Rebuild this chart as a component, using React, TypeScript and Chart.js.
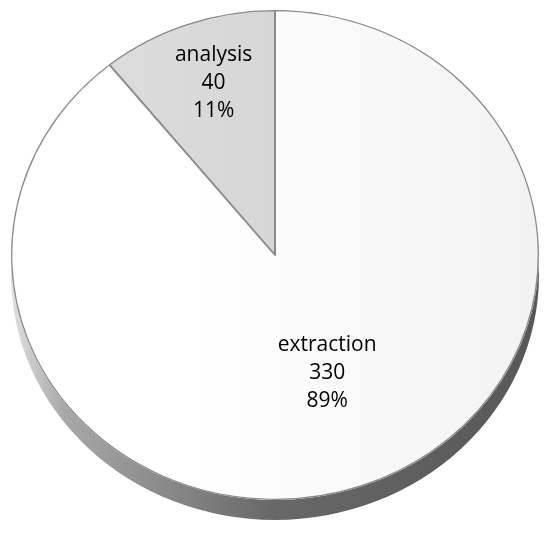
import React, { useEffect, useRef } from "react";
import { Chart, registerables } from "chart.js";

Chart.register(...registerables);

const categories = ["extraction", "analysis"];
const values = [330, 40];
const percentLabels = ["89%", "11%"];
const labelRadiusFraction = [0.52, 0.74];
const labelAngleShift = [-0.05, 0.02];

const W = 550;
const H = 534;
const CY_TARGET = 255;
const RY = 245;
const DEPTH = 20;

export default function App() {
  const ref = useRef<HTMLCanvasElement | null>(null);

  useEffect(() => {
    const canvas = ref.current;
    if (!canvas) return;

    const getGeom = (chart: any) => {
      const arc = chart.getDatasetMeta(0).data[0] as any;
      const cx = arc.x;
      const cy = arc.y;
      const rx = arc.outerRadius;
      const k = RY / rx;
      return { cx, cy, rx, k };
    };

    const ellipsePlugin = {
      id: "ellipse3d",
      beforeDatasetsDraw(chart: any) {
        const ctx = chart.ctx as CanvasRenderingContext2D;
        const { cx, cy, rx, k } = getGeom(chart);
        ctx.save();
        const g = ctx.createLinearGradient(cx - rx, 0, cx + rx, 0);
        g.addColorStop(0, "#e0e0e0");
        g.addColorStop(0.1, "#a8a8a8");
        g.addColorStop(0.5, "#686868");
        g.addColorStop(1, "#575757");
        ctx.beginPath();
        ctx.ellipse(cx, CY_TARGET + DEPTH, rx, RY, 0, 0, Math.PI);
        ctx.lineTo(cx - rx, CY_TARGET);
        ctx.ellipse(cx, CY_TARGET, rx, RY, 0, Math.PI, 0, true);
        ctx.closePath();
        ctx.fillStyle = g;
        ctx.fill();
        ctx.restore();
        ctx.save();
        ctx.translate(0, CY_TARGET);
        ctx.scale(1, k);
        ctx.translate(0, -cy);
      },
      afterDatasetsDraw(chart: any) {
        const ctx = chart.ctx as CanvasRenderingContext2D;
        ctx.restore();
        const { cx, k } = getGeom(chart);
        const meta = chart.getDatasetMeta(0);
        ctx.save();
        ctx.fillStyle = "#000000";
        ctx.textAlign = "center";
        ctx.textBaseline = "middle";
        ctx.font = '21px "Open Sans", Lato, sans-serif';
        meta.data.forEach((el: any, i: number) => {
          const mid = (el.startAngle + el.endAngle) / 2 + labelAngleShift[i];
          const r = el.outerRadius * labelRadiusFraction[i];
          const px = cx + Math.cos(mid) * r;
          const py = CY_TARGET + Math.sin(mid) * r * k;
          const lines = [categories[i], String(values[i]), percentLabels[i]];
          lines.forEach((t, j) => {
            ctx.fillText(t, px, py + (j - 1) * 28);
          });
        });
        ctx.restore();
      },
    };

    const ctx2 = canvas.getContext("2d")!;
    const faceGrad = ctx2.createLinearGradient(11, 0, 539, 0);
    faceGrad.addColorStop(0, "#ffffff");
    faceGrad.addColorStop(0.35, "#ffffff");
    faceGrad.addColorStop(1, "#f2f2f2");
    const anaGrad = ctx2.createLinearGradient(110, 0, 275, 0);
    anaGrad.addColorStop(0, "#dcdcdc");
    anaGrad.addColorStop(1, "#d6d6d6");

    const chart = new Chart(canvas, {
      type: "pie",
      data: {
        labels: categories,
        datasets: [
          {
            data: values,
            backgroundColor: [faceGrad, anaGrad],
            borderColor: "#8a8a8a",
            borderWidth: 1,
            borderAlign: "inner",
          } as any,
        ],
      },
      options: {
        responsive: false,
        animation: false,
        layout: { padding: { left: 11, right: 11, top: 3, bottom: 3 } },
        plugins: {
          legend: { display: false },
          tooltip: { enabled: false },
        },
      },
      plugins: [ellipsePlugin],
    });

    return () => chart.destroy();
  }, []);

  return (
    <div style={{ position: "absolute", left: 0, top: 0, width: W, height: H, background: "#ffffff" }}>
      <canvas ref={ref} width={W} height={H} style={{ display: "block" }} />
    </div>
  );
}
